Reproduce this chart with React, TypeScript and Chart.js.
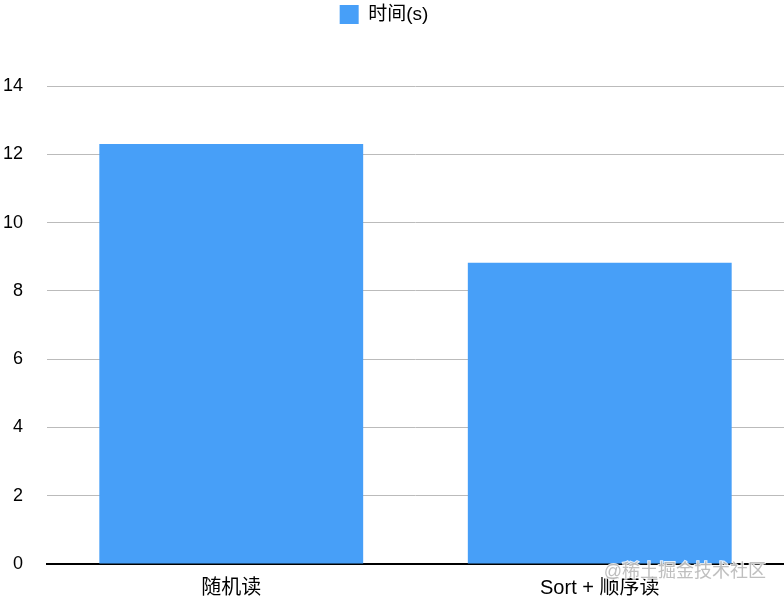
import React, { useEffect, useRef } from "react";
import { Chart, registerables } from "chart.js";

Chart.register(...registerables);

const categories = ["随机读", "Sort + 顺序读"];
const seriesLabel = "时间(s)";
const timeValues = [12.3, 8.82];
const watermark = "@稀土掘金技术社区";

const FONT = "Helvetica, 'Liberation Sans', Arial, 'Noto Sans CJK SC', sans-serif";

const legendTweak = {
  id: "legendTweak",
  beforeInit(chart: any) {
    const legend = chart.legend;
    if (!legend) return;
    const origFit = legend.fit;
    legend.fit = function () {
      origFit.call(this);
      this.height = 86;
    };
    const origDraw = legend.draw;
    legend.draw = function () {
      const ctx = this.ctx;
      ctx.save();
      ctx.translate(-8, 0);
      origDraw.call(this);
      ctx.restore();
    };
  },
};

const watermarkPlugin = {
  id: "watermarkPlugin",
  afterDraw(chart: any) {
    const ctx = chart.ctx;
    ctx.save();
    ctx.font = `18px ${FONT}`;
    ctx.textAlign = "right";
    ctx.textBaseline = "middle";
    ctx.lineWidth = 2;
    ctx.strokeStyle = "rgba(255,255,255,0.85)";
    ctx.strokeText(watermark, 766, 572);
    ctx.fillStyle = "rgba(170,170,170,0.75)";
    ctx.fillText(watermark, 766, 572);
    ctx.restore();
  },
};

export default function App() {
  const ref = useRef<HTMLCanvasElement>(null);
  useEffect(() => {
    document.body.style.margin = "0";
    const chart = new Chart(ref.current!, {
      type: "bar",
      data: {
        labels: categories,
        datasets: [
          {
            label: seriesLabel,
            data: timeValues,
            backgroundColor: "#479ff8",
            borderWidth: 0,
            categoryPercentage: 1,
            barPercentage: 0.716,
          },
        ],
      },
      options: {
        animation: false,
        responsive: false,
        maintainAspectRatio: false,
        layout: { padding: 0 },
        plugins: {
          legend: {
            position: "top",
            labels: {
              boxWidth: 19,
              boxHeight: 19,
              padding: 5,
              color: "#000",
              font: { size: 19, family: FONT },
            },
          },
          tooltip: { enabled: false },
        },
        scales: {
          x: {
            grid: { display: false, drawTicks: false },
            border: { display: true, color: "#000", width: 2 },
            ticks: { color: "#000", padding: 12, font: { size: 20, family: FONT } },
            afterFit(scale: any) {
              scale.height = 36;
            },
          },
          y: {
            min: 0,
            max: 14,
            ticks: { stepSize: 2, color: "#000", padding: 24, font: { size: 18, family: FONT } },
            grid: { color: "#bbbbbb", lineWidth: 1, drawTicks: false },
            border: { display: false },
            afterFit(scale: any) {
              scale.width = 47;
            },
          },
        },
      },
      plugins: [legendTweak, watermarkPlugin],
    });
    return () => chart.destroy();
  }, []);
  return (
    <div style={{ position: "absolute", left: 0, top: 0, width: 784, height: 600 }}>
      <canvas ref={ref} width={784} height={600} style={{ width: 784, height: 600 }} />
    </div>
  );
}
